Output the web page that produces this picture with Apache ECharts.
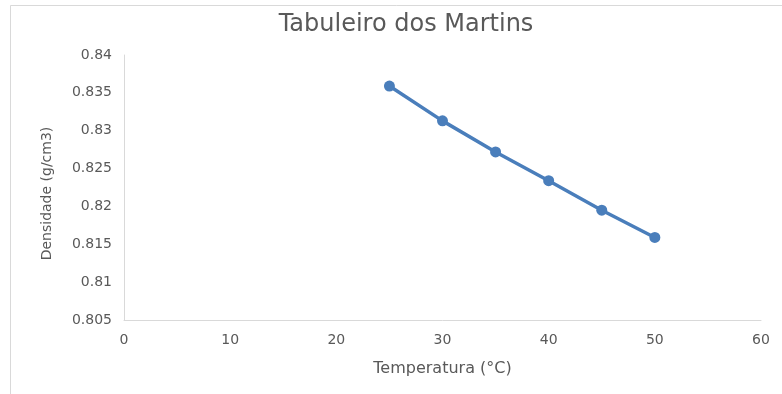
<!DOCTYPE html>
<html>
<head>
<meta charset="utf-8">
<script src="https://cdn.jsdelivr.net/npm/echarts@6/dist/echarts.min.js"></script>
<style>
html,body{margin:0;padding:0;background:#fff;}
#c{width:782px;height:394px;}
</style>
</head>
<body>
<div id="c"></div>
<script>
const titleText = "Tabuleiro dos Martins";
const xAxisName = "Temperatura (°C)";
const yAxisName = "Densidade (g/cm3)";
const temperatures = [25, 30, 35, 40, 45, 50];
const densities = [0.8359, 0.8313, 0.8272, 0.8234, 0.8195, 0.8159];

const chart = echarts.init(document.getElementById('c'));
const font = "'DejaVu Sans', sans-serif";
chart.setOption({
  animation: false,
  backgroundColor: '#fff',
  graphic: [{
    type: 'rect',
    shape: {x: 10.5, y: 5.5, width: 800, height: 400},
    style: {fill: 'none', stroke: '#d9d9d9', lineWidth: 1},
    silent: true
  }],
  title: {
    text: titleText,
    left: 401,
    top: 8,
    textAlign: 'center',
    textStyle: {color: '#595959', fontSize: 24, fontWeight: 'normal', fontFamily: font}
  },
  grid: {left: 124, right: 21, top: 55, bottom: 74, containLabel: false},
  xAxis: {
    type: 'value',
    min: 0, max: 60, interval: 10,
    name: xAxisName,
    nameLocation: 'middle',
    nameGap: 41,
    nameTextStyle: {color: '#595959', fontSize: 16, fontFamily: font},
    axisLine: {show: true, lineStyle: {color: '#d9d9d9', width: 1}},
    axisTick: {show: false},
    splitLine: {show: false},
    axisLabel: {color: '#595959', fontSize: 14, fontFamily: font, margin: 13}
  },
  yAxis: {
    type: 'value',
    min: 0.805, max: 0.84, interval: 0.005,
    name: yAxisName,
    nameLocation: 'middle',
    nameGap: 70,
    nameTextStyle: {color: '#595959', fontSize: 14, fontFamily: font, padding: [0, 12, 0, 0]},
    axisLine: {show: true, lineStyle: {color: '#d9d9d9', width: 1}},
    axisTick: {show: false},
    splitLine: {show: false},
    axisLabel: {color: '#595959', fontSize: 14, fontFamily: font, margin: 12,
      formatter: v => String(parseFloat(v.toFixed(3)))}
  },
  series: [{
    type: 'line',
    data: temperatures.map((t, i) => [t, densities[i]]),
    symbol: 'circle',
    symbolSize: 11,
    lineStyle: {color: '#4a7ebb', width: 3.5},
    itemStyle: {color: '#4a7ebb'}
  }]
});
</script>
</body>
</html>
